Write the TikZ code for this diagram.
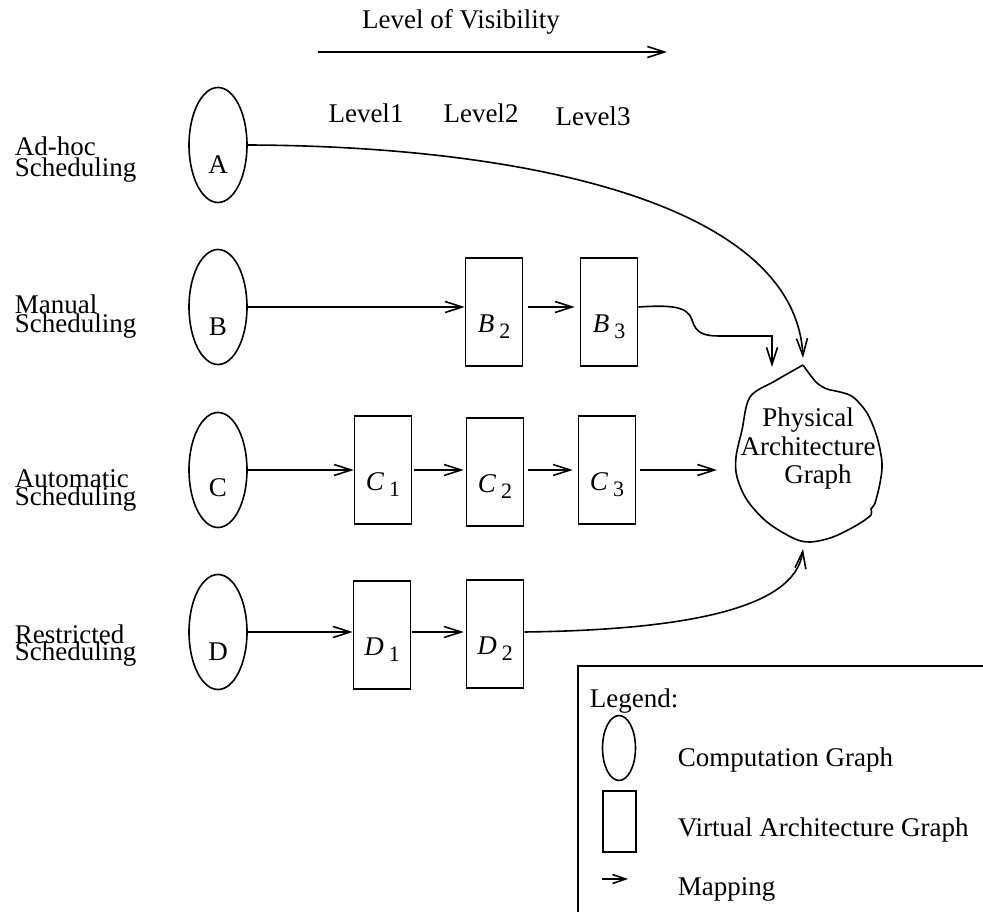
\documentclass[tikz,border=0pt]{standalone}
\usepackage{fontspec}
\setmainfont{Liberation Serif}
\usetikzlibrary{arrows.meta,shapes.geometric}
\newcommand\bigfnt{\fontsize{27}{28.5}\selectfont}
\newcommand\subfnt{\fontsize{22}{22}\selectfont}
\newcommand\vlab[2]{\textit{#1}\hspace{5pt}\raisebox{-6pt}{\subfnt #2}}
\begin{document}
\begin{tikzpicture}[x=1pt,y=-1pt,
  line width=1.6pt,
  >={Straight Barb[length=17pt,width=11pt]},
  txt/.style={font=\bigfnt, inner sep=0pt},
  compg/.style={draw, ellipse, minimum width=58pt, minimum height=115pt, inner sep=0pt},
  virtg/.style={draw, rectangle, minimum width=57pt, minimum height=108pt, inner sep=0pt},
  map/.style={->}]
\useasboundingbox (0,0) rectangle (983,912);

% top
\node[txt] (title) at (461,22) {Level of Visibility};
\coordinate (vis0) at (318,52);
\coordinate (vis1) at (667,52);
\draw[map] (vis0) -- (vis1);
\node[txt] (L1) at (366,113) {Level1};
\node[txt] (L2) at (481,113) {Level2};
\node[txt] (L3) at (593,116) {Level3};

% row labels
\node[txt,anchor=base west] (ra1) at (14,156) {Ad-hoc};
\node[txt,anchor=base west] (ra2) at (14,177) {Scheduling};
\node[txt,anchor=base west] (rb1) at (14,313) {Manual};
\node[txt,anchor=base west] (rb2) at (14,332) {Scheduling};
\node[txt,anchor=base west] (rc1) at (14,487) {Automatic};
\node[txt,anchor=base west] (rc2) at (14,505) {Scheduling};
\node[txt,anchor=base west] (rd1) at (14,643) {Restricted};
\node[txt,anchor=base west] (rd2) at (14,660) {Scheduling};

% computation graphs
\node[compg,label={[txt,yshift=-20pt]center:A}] (A) at (218,145) {};
\node[compg,label={[txt,yshift=-20pt]center:B}] (B) at (218,307) {};
\node[compg,label={[txt,yshift=-18pt]center:C}] (C) at (218,470) {};
\node[compg,label={[txt,yshift=-20pt]center:D}] (D) at (218,632) {};

% virtual architecture graphs
\node[virtg,label={[txt,yshift=-15pt]center:\vlab{B}{2}}] (B2) at (494,312) {};
\node[virtg,label={[txt,yshift=-15pt]center:\vlab{B}{3}}] (B3) at (609,312) {};
\node[virtg,label={[txt,yshift=-15pt]center:\vlab{C}{1}}] (C1) at (383,470) {};
\node[virtg,label={[txt,yshift=-15pt]center:\vlab{C}{2}}] (C2) at (495,472) {};
\node[virtg,label={[txt,yshift=-15pt]center:\vlab{C}{3}}] (C3) at (607,470) {};
\node[virtg,label={[txt,yshift=-15pt]center:\vlab{D}{1}}] (D1) at (382,635) {};
\node[virtg,label={[txt,yshift=-15pt]center:\vlab{D}{2}}] (D2) at (495,634) {};

% physical architecture graph
\draw plot[smooth, tension=0.55] coordinates {(803,365) (775,381) (750,397) (742,430) (736,457) (737,477) (747,500) (767,522) (793,538) (810,542) (833,537) (857,525) (871,515) (871,509) (875,503) (880,483) (882,463) (877,437) (867,413) (853,397) (840,392) (827,389) (817,383) (808,372) (803,365)};
\node[txt,align=center] (P) at (808,449) {Physical\\Architecture\\\hspace*{20pt}Graph};
\coordinate (ptop) at (803,358);
\coordinate (pb3) at (772,367);
\coordinate (pleft) at (717,470);
\coordinate (pbot) at (803,549);

% mappings
\draw[map] (A.east) .. controls (530,146) and (795,205) .. (ptop);
\draw[map] (B.east) -- (B2.west |- B.east);
\draw[map,shorten <=5pt,shorten >=5pt] (B2.east |- B.east) -- (B3.west |- B.east);
\draw[map] (B3.east |- B.east) .. controls (670,305) and (688,306) .. (692,320) .. controls (696,334) and (705,336) .. (720,336) -- (772,336) -- (pb3);
\draw[map] (C.east) -- (C1.west);
\draw[map,shorten <=2pt,shorten >=2pt] (C1.east) -- (C2.west |- C1.east);
\draw[map,shorten <=4pt,shorten >=5pt] (C2.east |- C1.east) -- (C3.west);
\draw[map,shorten <=4pt] (C3.east) -- (pleft);
\draw[map] (D.east) -- (D1.west |- D.east);
\draw[map,shorten <=1pt,shorten >=2pt] (D1.east |- D.east) -- (D2.west |- D.east);
\draw[map] (D2.east |- D.east) .. controls (680,630) and (795,610) .. (pbot);

% legend
\draw (983,666) -- (578,666) -- (578,912);
\node[txt,anchor=base west] (leg) at (589,707) {Legend:};
\node[draw,ellipse,minimum width=33pt,minimum height=65pt,inner sep=0pt] (lcg) at (619,748) {};
\node[txt,anchor=west] (lcgt) at (677,760) {Computation Graph};
\node[draw,minimum width=33pt,minimum height=61pt,inner sep=0pt] (lvg) at (619.5,821.5) {};
\node[txt,anchor=west] (lvgt) at (677,830) {Virtual Architecture Graph};
\coordinate (lm0) at (602,879);
\coordinate (lm1) at (628,879);
\draw[map,>={Straight Barb[length=13pt,width=9pt]}] (lm0) -- (lm1);
\node[txt,anchor=west] (lmt) at (677,889) {Mapping};
\end{tikzpicture}
\end{document}
